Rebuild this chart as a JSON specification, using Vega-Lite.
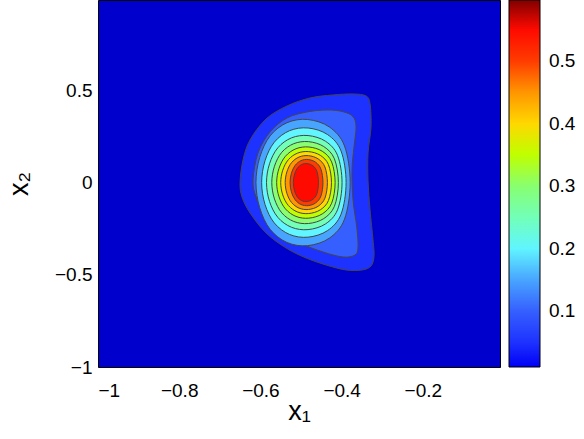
{
  "$schema": "https://vega.github.io/schema/vega-lite/v6.json",
  "width": 402,
  "height": 367,
  "autosize": "none",
  "padding": {"left": 98, "top": 0, "right": 84, "bottom": 72},
  "background": "white",
  "config": {
    "view": {"fill": "#0000cc", "stroke": "#000000", "strokeWidth": 1},
    "axis": {"labelFont": "Liberation Sans", "labelFontSize": 19, "labelColor": "#000000", "titleFont": "Liberation Sans", "titleFontWeight": "normal", "titleColor": "#000000", "domain": false, "ticks": false, "grid": false, "format": "~g"}
  },
  "data": {"values": [
    {"level":0.05,"i":1,"x":-0.6502,"y":0},
    {"level":0.05,"i":2,"x":-0.6429,"y":0.1226},
    {"level":0.05,"i":3,"x":-0.6256,"y":0.2310},
    {"level":0.05,"i":4,"x":-0.5862,"y":0.3449},
    {"level":0.05,"i":5,"x":-0.5345,"y":0.4154},
    {"level":0.05,"i":6,"x":-0.4778,"y":0.4588},
    {"level":0.05,"i":7,"x":-0.4212,"y":0.4751},
    {"level":0.05,"i":8,"x":-0.3719,"y":0.4805},
    {"level":0.05,"i":9,"x":-0.3399,"y":0.4696},
    {"level":0.05,"i":10,"x":-0.3300,"y":0.4262},
    {"level":0.05,"i":11,"x":-0.3276,"y":0.3015},
    {"level":0.05,"i":12,"x":-0.3350,"y":0.1605},
    {"level":0.05,"i":13,"x":-0.3350,"y":0.0087},
    {"level":0.05,"i":14,"x":-0.3300,"y":-0.1486},
    {"level":0.05,"i":15,"x":-0.3227,"y":-0.3113},
    {"level":0.05,"i":16,"x":-0.3202,"y":-0.3980},
    {"level":0.05,"i":17,"x":-0.3276,"y":-0.4523},
    {"level":0.05,"i":18,"x":-0.3498,"y":-0.4740},
    {"level":0.05,"i":19,"x":-0.3892,"y":-0.4740},
    {"level":0.05,"i":20,"x":-0.4384,"y":-0.4469},
    {"level":0.05,"i":21,"x":-0.4877,"y":-0.4089},
    {"level":0.05,"i":22,"x":-0.5369,"y":-0.3547},
    {"level":0.05,"i":23,"x":-0.5862,"y":-0.2733},
    {"level":0.05,"i":24,"x":-0.6256,"y":-0.1649},
    {"level":0.05,"i":25,"x":-0.6453,"y":-0.0781},

    {"level":0.1,"i":1,"x":-0.6182,"y":0.0141},
    {"level":0.1,"i":2,"x":-0.6059,"y":0.1605},
    {"level":0.1,"i":3,"x":-0.5764,"y":0.2744},
    {"level":0.1,"i":4,"x":-0.5345,"y":0.3503},
    {"level":0.1,"i":5,"x":-0.4852,"y":0.3829},
    {"level":0.1,"i":6,"x":-0.4360,"y":0.3937},
    {"level":0.1,"i":7,"x":-0.3966,"y":0.3845},
    {"level":0.1,"i":8,"x":-0.3719,"y":0.3574},
    {"level":0.1,"i":9,"x":-0.3645,"y":0.3015},
    {"level":0.1,"i":10,"x":-0.3695,"y":0.1931},
    {"level":0.1,"i":11,"x":-0.3744,"y":0.0683},
    {"level":0.1,"i":12,"x":-0.3719,"y":-0.0944},
    {"level":0.1,"i":13,"x":-0.3628,"y":-0.2408},
    {"level":0.1,"i":14,"x":-0.3596,"y":-0.3492},
    {"level":0.1,"i":15,"x":-0.3670,"y":-0.3926},
    {"level":0.1,"i":16,"x":-0.3966,"y":-0.4035},
    {"level":0.1,"i":17,"x":-0.4458,"y":-0.3764},
    {"level":0.1,"i":18,"x":-0.5025,"y":-0.3275},
    {"level":0.1,"i":19,"x":-0.5517,"y":-0.2570},
    {"level":0.1,"i":20,"x":-0.5887,"y":-0.1649},
    {"level":0.1,"i":21,"x":-0.6108,"y":-0.0781},

    {"level":0.15,"i":1,"x":-0.611,"y":0},
    {"level":0.15,"i":2,"x":-0.6017,"y":0.1368},
    {"level":0.15,"i":3,"x":-0.5762,"y":0.2531},
    {"level":0.15,"i":4,"x":-0.5344,"y":0.3249},
    {"level":0.15,"i":5,"x":-0.4834,"y":0.342},
    {"level":0.15,"i":6,"x":-0.430,"y":0.301},
    {"level":0.15,"i":7,"x":-0.3929,"y":0.1984},
    {"level":0.15,"i":8,"x":-0.379,"y":0},
    {"level":0.15,"i":9,"x":-0.3929,"y":-0.1984},
    {"level":0.15,"i":10,"x":-0.430,"y":-0.301},
    {"level":0.15,"i":11,"x":-0.4834,"y":-0.342},
    {"level":0.15,"i":12,"x":-0.5344,"y":-0.3249},
    {"level":0.15,"i":13,"x":-0.5762,"y":-0.2531},
    {"level":0.15,"i":14,"x":-0.6017,"y":-0.1368},

    {"level":0.2,"i":1,"x":-0.597,"y":0},
    {"level":0.2,"i":2,"x":-0.5887,"y":0.1184},
    {"level":0.2,"i":3,"x":-0.5658,"y":0.219},
    {"level":0.2,"i":4,"x":-0.5284,"y":0.2812},
    {"level":0.2,"i":5,"x":-0.4826,"y":0.296},
    {"level":0.2,"i":6,"x":-0.4348,"y":0.2605},
    {"level":0.2,"i":7,"x":-0.4015,"y":0.1717},
    {"level":0.2,"i":8,"x":-0.389,"y":0},
    {"level":0.2,"i":9,"x":-0.4015,"y":-0.1717},
    {"level":0.2,"i":10,"x":-0.4348,"y":-0.2605},
    {"level":0.2,"i":11,"x":-0.4826,"y":-0.296},
    {"level":0.2,"i":12,"x":-0.5284,"y":-0.2812},
    {"level":0.2,"i":13,"x":-0.5658,"y":-0.219},
    {"level":0.2,"i":14,"x":-0.5887,"y":-0.1184},

    {"level":0.25,"i":1,"x":-0.585,"y":0},
    {"level":0.25,"i":2,"x":-0.5776,"y":0.102},
    {"level":0.25,"i":3,"x":-0.5571,"y":0.1887},
    {"level":0.25,"i":4,"x":-0.5236,"y":0.2423},
    {"level":0.25,"i":5,"x":-0.4827,"y":0.255},
    {"level":0.25,"i":6,"x":-0.4399,"y":0.2244},
    {"level":0.25,"i":7,"x":-0.4102,"y":0.1479},
    {"level":0.25,"i":8,"x":-0.399,"y":0},
    {"level":0.25,"i":9,"x":-0.4102,"y":-0.1479},
    {"level":0.25,"i":10,"x":-0.4399,"y":-0.2244},
    {"level":0.25,"i":11,"x":-0.4827,"y":-0.255},
    {"level":0.25,"i":12,"x":-0.5236,"y":-0.2423},
    {"level":0.25,"i":13,"x":-0.5571,"y":-0.1887},
    {"level":0.25,"i":14,"x":-0.5776,"y":-0.102},

    {"level":0.3,"i":1,"x":-0.572,"y":0},
    {"level":0.3,"i":2,"x":-0.5654,"y":0.0888},
    {"level":0.3,"i":3,"x":-0.5474,"y":0.1643},
    {"level":0.3,"i":4,"x":-0.5179,"y":0.2109},
    {"level":0.3,"i":5,"x":-0.4818,"y":0.222},
    {"level":0.3,"i":6,"x":-0.4441,"y":0.1954},
    {"level":0.3,"i":7,"x":-0.4178,"y":0.1288},
    {"level":0.3,"i":8,"x":-0.408,"y":0},
    {"level":0.3,"i":9,"x":-0.4178,"y":-0.1288},
    {"level":0.3,"i":10,"x":-0.4441,"y":-0.1954},
    {"level":0.3,"i":11,"x":-0.4818,"y":-0.222},
    {"level":0.3,"i":12,"x":-0.5179,"y":-0.2109},
    {"level":0.3,"i":13,"x":-0.5474,"y":-0.1643},
    {"level":0.3,"i":14,"x":-0.5654,"y":-0.0888},

    {"level":0.35,"i":1,"x":-0.560,"y":0},
    {"level":0.35,"i":2,"x":-0.5542,"y":0.0772},
    {"level":0.35,"i":3,"x":-0.5384,"y":0.1428},
    {"level":0.35,"i":4,"x":-0.5125,"y":0.1834},
    {"level":0.35,"i":5,"x":-0.4808,"y":0.193},
    {"level":0.35,"i":6,"x":-0.4477,"y":0.1698},
    {"level":0.35,"i":7,"x":-0.4246,"y":0.1119},
    {"level":0.35,"i":8,"x":-0.416,"y":0},
    {"level":0.35,"i":9,"x":-0.4246,"y":-0.1119},
    {"level":0.35,"i":10,"x":-0.4477,"y":-0.1698},
    {"level":0.35,"i":11,"x":-0.4808,"y":-0.193},
    {"level":0.35,"i":12,"x":-0.5125,"y":-0.1834},
    {"level":0.35,"i":13,"x":-0.5384,"y":-0.1428},
    {"level":0.35,"i":14,"x":-0.5542,"y":-0.0772},

    {"level":0.4,"i":1,"x":-0.550,"y":0},
    {"level":0.4,"i":2,"x":-0.545,"y":0.0672},
    {"level":0.4,"i":3,"x":-0.5312,"y":0.1243},
    {"level":0.4,"i":4,"x":-0.5087,"y":0.1596},
    {"level":0.4,"i":5,"x":-0.4812,"y":0.168},
    {"level":0.4,"i":6,"x":-0.4525,"y":0.1478},
    {"level":0.4,"i":7,"x":-0.4325,"y":0.0974},
    {"level":0.4,"i":8,"x":-0.425,"y":0},
    {"level":0.4,"i":9,"x":-0.4325,"y":-0.0974},
    {"level":0.4,"i":10,"x":-0.4525,"y":-0.1478},
    {"level":0.4,"i":11,"x":-0.4812,"y":-0.168},
    {"level":0.4,"i":12,"x":-0.5087,"y":-0.1596},
    {"level":0.4,"i":13,"x":-0.5312,"y":-0.1243},
    {"level":0.4,"i":14,"x":-0.545,"y":-0.0672},

    {"level":0.45,"i":1,"x":-0.539,"y":0},
    {"level":0.45,"i":2,"x":-0.5348,"y":0.0584},
    {"level":0.45,"i":3,"x":-0.5234,"y":0.108},
    {"level":0.45,"i":4,"x":-0.5047,"y":0.1387},
    {"level":0.45,"i":5,"x":-0.4818,"y":0.146},
    {"level":0.45,"i":6,"x":-0.4579,"y":0.1285},
    {"level":0.45,"i":7,"x":-0.4412,"y":0.0847},
    {"level":0.45,"i":8,"x":-0.435,"y":0},
    {"level":0.45,"i":9,"x":-0.4412,"y":-0.0847},
    {"level":0.45,"i":10,"x":-0.4579,"y":-0.1285},
    {"level":0.45,"i":11,"x":-0.4818,"y":-0.146},
    {"level":0.45,"i":12,"x":-0.5047,"y":-0.1387},
    {"level":0.45,"i":13,"x":-0.5234,"y":-0.108},
    {"level":0.45,"i":14,"x":-0.5348,"y":-0.0584},

    {"level":0.5,"i":1,"x":-0.527,"y":0},
    {"level":0.5,"i":2,"x":-0.5238,"y":0.05},
    {"level":0.5,"i":3,"x":-0.5148,"y":0.0925},
    {"level":0.5,"i":4,"x":-0.5003,"y":0.1188},
    {"level":0.5,"i":5,"x":-0.4824,"y":0.125},
    {"level":0.5,"i":6,"x":-0.4638,"y":0.11},
    {"level":0.5,"i":7,"x":-0.4509,"y":0.0725},
    {"level":0.5,"i":8,"x":-0.446,"y":0},
    {"level":0.5,"i":9,"x":-0.4509,"y":-0.0725},
    {"level":0.5,"i":10,"x":-0.4638,"y":-0.11},
    {"level":0.5,"i":11,"x":-0.4824,"y":-0.125},
    {"level":0.5,"i":12,"x":-0.5003,"y":-0.1188},
    {"level":0.5,"i":13,"x":-0.5148,"y":-0.0925},
    {"level":0.5,"i":14,"x":-0.5238,"y":-0.05},

    {"level":0.55,"i":1,"x":-0.519,"y":0},
    {"level":0.55,"i":2,"x":-0.5165,"y":0.0412},
    {"level":0.55,"i":3,"x":-0.5097,"y":0.0762},
    {"level":0.55,"i":4,"x":-0.4985,"y":0.0979},
    {"level":0.55,"i":5,"x":-0.4849,"y":0.103},
    {"level":0.55,"i":6,"x":-0.4706,"y":0.0906},
    {"level":0.55,"i":7,"x":-0.4607,"y":0.0597},
    {"level":0.55,"i":8,"x":-0.457,"y":0},
    {"level":0.55,"i":9,"x":-0.4607,"y":-0.0597},
    {"level":0.55,"i":10,"x":-0.4706,"y":-0.0906},
    {"level":0.55,"i":11,"x":-0.4849,"y":-0.103},
    {"level":0.55,"i":12,"x":-0.4985,"y":-0.0979},
    {"level":0.55,"i":13,"x":-0.5097,"y":-0.0762},
    {"level":0.55,"i":14,"x":-0.5165,"y":-0.0412}
  ]},
  "mark": {"type": "line", "interpolate": "cardinal-closed", "stroke": "#454545", "strokeWidth": 1},
  "encoding": {
    "x": {"field": "x", "type": "quantitative", "scale": {"domain": [-1, -0.01], "nice": false, "zero": false},
      "axis": {"values": [-1, -0.8, -0.6, -0.4, -0.2], "labelPadding": 14, "title": "x₁", "titleFontSize": 27, "titlePadding": -2}},
    "y": {"field": "y", "type": "quantitative", "scale": {"domain": [-1, 0.99], "nice": false, "zero": false},
      "axis": {"values": [-1, -0.5, 0, 0.5], "labelPadding": 6, "title": "x₂", "titleFontSize": 27, "titlePadding": 21}},
    "order": {"field": "i", "type": "quantitative"},
    "detail": {"field": "level", "type": "quantitative"},
    "fill": {"field": "level", "type": "quantitative",
      "scale": {"domain": [0.0104, 0.05, 0.1, 0.15, 0.2, 0.25, 0.3, 0.35, 0.38, 0.4, 0.45, 0.5, 0.55, 0.575, 0.598],
                "range": ["#0000f5", "#1e32ff", "#3560ff", "#48a5ff", "#60f5ff", "#72ffb8", "#88ff70", "#bfff00", "#ffff00", "#ffd800", "#ff9600", "#ff3c00", "#ff0a00", "#c00000", "#800000"]},
      "legend": {"orient": "right", "offset": 9, "padding": 0, "title": null, "gradientLength": 367, "gradientThickness": 31,
        "gradientStrokeColor": "#000000", "gradientStrokeWidth": 1, "labelFont": "Liberation Sans", "labelFontSize": 19,
        "labelColor": "#000000", "labelOffset": 9, "values": [0.1, 0.2, 0.3, 0.4, 0.5], "labelOverlap": false, "format": ".1f"}}
  }
}
